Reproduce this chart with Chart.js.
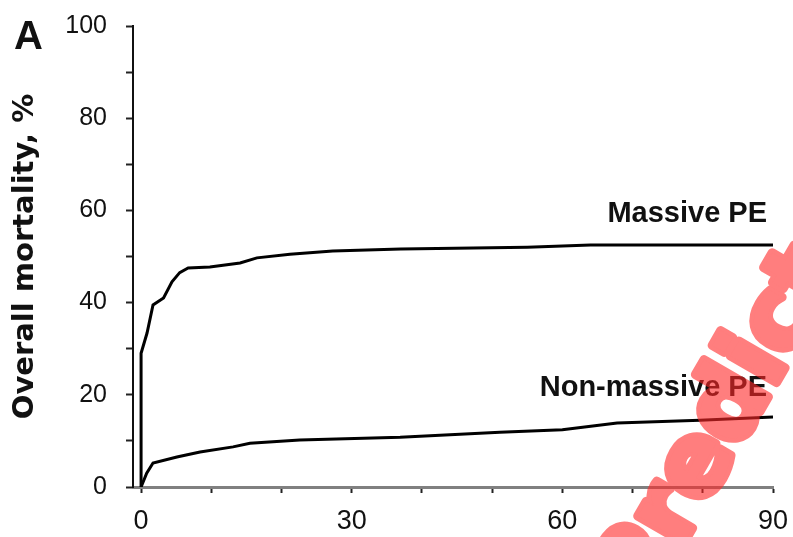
<!DOCTYPE html>
<html>
<head>
<meta charset="utf-8">
<script src="https://cdn.jsdelivr.net/npm/chart.js@4.4.1/dist/chart.umd.min.js"></script>
<style>
  html, body { margin: 0; padding: 0; background: #fff; }
  #wrap { width: 793px; height: 537px; }
</style>
</head>
<body>
<div id="wrap"><canvas id="chart" width="793" height="537"></canvas></div>
<script>
// cumulative mortality (%) against days since admission
var massiveDays = [0, 0, 0.85, 1.7, 3.2, 4.4, 5.5, 6.7, 9.8, 14.1, 16.5, 21.2, 27.3, 37, 55, 64, 90];
var massiveMort = [0, 29, 33.4, 39.5, 41, 44.5, 46.5, 47.5, 47.7, 48.6, 49.7, 50.5, 51.2, 51.6, 52.0, 52.5, 52.5];

var nonMassiveDays = [0, 0.8, 1.7, 5.1, 8.4, 13.1, 15.5, 22.6, 36.9, 51.1, 60, 67.8, 79.6, 90];
var nonMassiveMort = [0, 3, 5.2, 6.5, 7.6, 8.7, 9.5, 10.2, 10.8, 11.9, 12.4, 13.9, 14.5, 15.2];

var xTicks = [0, 10, 20, 30, 40, 50, 60, 70, 80, 90];
var xLabels = [0, 30, 60, 90];
var yTicks = [0, 10, 20, 30, 40, 50, 60, 70, 80, 90, 100];
var yLabels = [0, 20, 40, 60, 80, 100];

// curve names and the mortality level they sit at
var curveNames = ["Massive PE", "Non-massive PE"];
var curveNameLevels = [59.2, 21.5];

var stampText = 'Predicted';

function toPoints(xs, ys) {
  return xs.map(function (x, i) { return { x: x, y: ys[i] }; });
}

// red stamp, drawn opaque on its own layer then blended in once
function drawStamp(ctx, w, h) {
  var layer = document.createElement('canvas');
  layer.width = w;
  layer.height = h;
  var c = layer.getContext('2d');
  var angle = -60 * Math.PI / 180;
  c.font = 'bold 98px "DejaVu Sans", sans-serif';
  // put the first lowercase letter at the lower right corner
  var lead = c.measureText(stampText.charAt(0)).width;
  c.translate(680 - lead * Math.cos(angle), 550 - lead * Math.sin(angle));
  c.rotate(angle);
  c.fillStyle = c.strokeStyle = 'rgb(255, 40, 40)';
  c.lineWidth = 9;
  c.lineJoin = 'round';
  c.textAlign = 'left';
  c.textBaseline = 'alphabetic';
  c.strokeText(stampText, 0, 0);
  c.fillText(stampText, 0, 0);
  ctx.save();
  ctx.setTransform(1, 0, 0, 1, 0, 0);
  ctx.globalAlpha = 0.6;
  ctx.drawImage(layer, 0, 0);
  ctx.restore();
}

// panel letter, curve names and the red stamp
var annotations = {
  id: 'annotations',
  afterDatasetsDraw: function (chart) {
    var ctx = chart.ctx;
    var xs = chart.scales.x, ys = chart.scales.y;
    ctx.save();
    ctx.fillStyle = '#111';
    ctx.font = 'bold 40px "Liberation Sans", Arial, sans-serif';
    ctx.textAlign = 'left';
    ctx.textBaseline = 'alphabetic';
    ctx.fillText('A', 14, 49);

    ctx.font = 'bold 29px "Liberation Sans", Arial, sans-serif';
    ctx.textAlign = 'right';
    ctx.textBaseline = 'middle';
    curveNames.forEach(function (name, i) {
      ctx.fillText(name, xs.getPixelForValue(90) - 6, ys.getPixelForValue(curveNameLevels[i]));
    });
    ctx.restore();
  },
  afterDraw: function (chart) {
    drawStamp(chart.ctx, chart.width, chart.height);
  }
};

new Chart(document.getElementById('chart'), {
  type: 'line',
  data: {
    datasets: [{
      label: curveNames[0],
      data: toPoints(massiveDays, massiveMort),
      borderColor: '#000',
      borderWidth: 3,
      pointRadius: 0,
      tension: 0
    }, {
      label: curveNames[1],
      data: toPoints(nonMassiveDays, nonMassiveMort),
      borderColor: '#000',
      borderWidth: 3,
      pointRadius: 0,
      tension: 0
    }]
  },
  options: {
    responsive: false,
    animation: false,
    layout: { padding: { left: 4, top: 26, right: 20, bottom: 0 } },
    plugins: {
      legend: { display: false },
      tooltip: { enabled: false }
    },
    scales: {
      x: {
        type: 'linear',
        min: -1.15,
        max: 90,
        afterBuildTicks: function (scale) {
          scale.ticks = xTicks.map(function (v) { return { value: v }; });
        },
        afterFit: function (scale) {
          scale.height = 50;
          scale.paddingLeft = 0;
          scale.paddingRight = 0;
        },
        grid: { drawOnChartArea: false, drawTicks: true, tickLength: 6, tickColor: '#222', tickWidth: 2 },
        border: { display: true, color: '#808080', width: 3 },
        ticks: {
          autoSkip: false,
          maxRotation: 0,
          padding: 12,
          color: '#111',
          font: { family: '"Liberation Sans", Arial, sans-serif', size: 27 },
          callback: function (v) { return xLabels.indexOf(v) >= 0 ? String(v) : ''; }
        }
      },
      y: {
        type: 'linear',
        min: 0,
        max: 100,
        afterBuildTicks: function (scale) {
          scale.ticks = yTicks.map(function (v) { return { value: v }; });
        },
        afterFit: function (scale) {
          scale.width = 129;
          scale.paddingTop = 0;
          scale.paddingBottom = 0;
        },
        grid: { drawOnChartArea: false, drawTicks: true, tickLength: 7, tickColor: '#222', tickWidth: 2 },
        border: { display: true, color: '#111', width: 2 },
        ticks: {
          autoSkip: false,
          padding: 19,
          color: '#111',
          font: { family: '"Liberation Sans", Arial, sans-serif', size: 25 },
          callback: function (v) { return yLabels.indexOf(v) >= 0 ? String(v) : ''; }
        },
        title: {
          display: true,
          text: 'Overall mortality, %',
          color: '#111',
          padding: { top: 4, bottom: 0 },
          font: { family: '"DejaVu Sans", sans-serif', size: 29, weight: 'bold' }
        }
      }
    }
  },
  plugins: [annotations]
});
</script>
</body>
</html>
